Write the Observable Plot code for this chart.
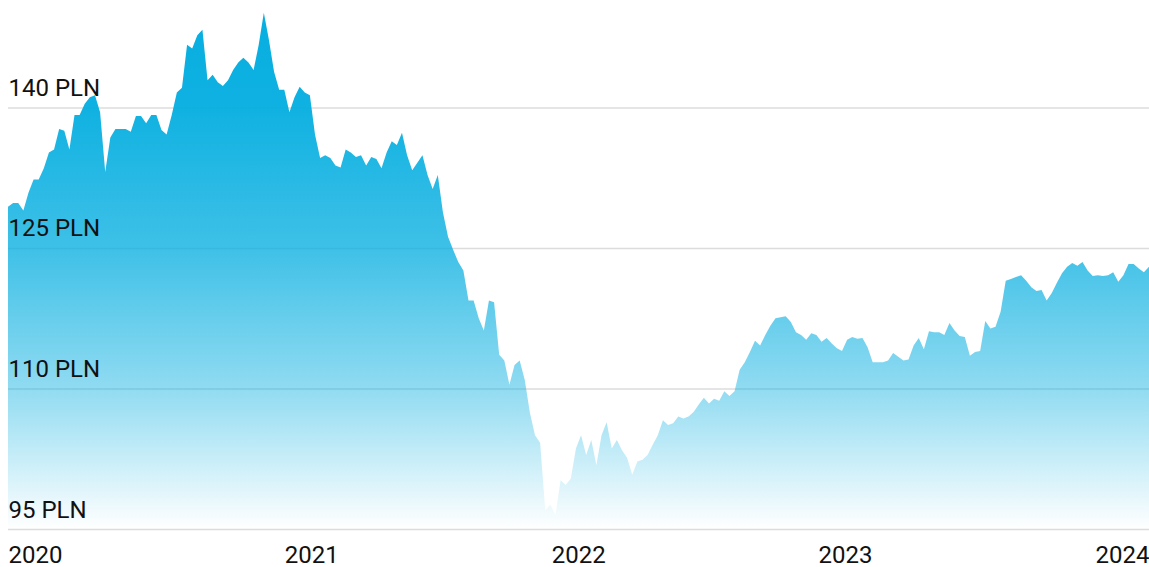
<!DOCTYPE html>
<html>
<head>
<meta charset="utf-8">
<script src="https://cdn.jsdelivr.net/npm/d3@7"></script>
<script src="https://cdn.jsdelivr.net/npm/@observablehq/plot@0.6"></script>
<style>
  html, body { margin: 0; padding: 0; background: #fff; }
  #chart svg { display: block; }
</style>
</head>
<body>
<div id="chart"></div>
<script>
// Weekly observations (Wednesdays) from first to last week
const firstWeek = "2019-11-13";
const lastWeek = "2024-02-21";

// Price in PLN, one value per week
const prices = [
  129.4,129.8,129.8,129.0,130.9,132.3,132.3,133.5,135.2,135.5,
  137.7,137.5,135.5,139.2,139.2,140.4,141.1,141.3,139.5,133.1,
  136.8,137.7,137.7,137.7,137.4,139.1,139.1,138.3,139.2,139.2,
  137.6,137.1,139.2,141.6,142.1,146.7,146.3,147.7,148.3,142.9,
  143.5,142.7,142.3,142.9,144.0,144.8,145.3,144.8,144.0,146.7,
  150.1,147.2,143.8,141.9,141.9,139.5,141.1,142.2,141.6,141.3,
  137.1,134.6,134.9,134.6,133.8,133.6,135.5,135.2,134.7,134.9,
  133.8,134.7,134.5,133.5,135.2,136.4,136.0,137.3,134.9,133.3,
  134.1,134.9,132.8,131.3,132.8,128.8,126.2,124.8,123.5,122.6,
  119.4,119.4,117.5,116.2,119.4,119.2,113.6,113.0,110.4,112.5,
  113.0,110.9,107.4,105.0,104.2,97.0,97.6,96.5,100.2,99.7,
  100.4,103.6,105.0,102.9,104.5,101.8,105.0,106.4,103.6,104.5,
  103.4,102.6,100.8,102.2,102.4,102.9,104.0,105.0,106.6,106.1,
  106.3,107.0,106.8,107.0,107.5,108.3,109.0,108.4,108.9,108.7,
  109.7,109.2,109.7,112.0,112.8,113.9,115.1,114.6,115.7,116.7,
  117.5,117.6,117.7,117.1,116.0,115.7,115.2,115.9,115.7,115.0,
  115.4,114.8,114.3,114.0,115.2,115.5,115.3,115.4,114.4,112.8,
  112.8,112.8,113.0,113.8,113.4,113.0,113.1,114.6,115.4,114.2,
  116.1,116.0,116.0,115.7,117.0,116.2,115.6,115.5,113.5,113.9,
  114.0,117.2,116.4,116.6,118.2,121.5,121.7,121.9,122.1,121.5,
  120.8,120.4,120.5,119.4,120.2,121.3,122.3,123.0,123.4,123.1,
  123.5,122.6,122.0,122.1,122.0,122.1,122.4,121.4,122.1,123.3,
  123.3,122.8,122.4,123.0
];

const yTicks = [95, 110, 125, 140];
const yTop = 151.47;
const yearLabels = [2020, 2021, 2022, 2023, 2024];
const unit = "PLN";

const dates = d3.utcWednesday.range(new Date(firstWeek), d3.utcDay.offset(new Date(lastWeek), 1));
const data = prices.map((p, i) => ({date: dates[i], price: p})).filter(d => d.date);
const xDomain = [data[0].date, data[data.length - 1].date];

const fadeStops = [
  {offset: 0, opacity: 1},
  {offset: 0.2, opacity: 0.96},
  {offset: 0.47, opacity: 0.77},
  {offset: 0.73, opacity: 0.45},
  {offset: 0.88, opacity: 0.2},
  {offset: 1, opacity: 0}
];
const areaColor = "#05aee0";

const gradient = (index, scales, values, dims) => {
  const defs = d3.create("svg:defs");
  const lg = defs.append("linearGradient")
    .attr("id", "fade")
    .attr("gradientUnits", "userSpaceOnUse")
    .attr("x1", 0).attr("x2", 0)
    .attr("y1", dims.marginTop)
    .attr("y2", dims.height - dims.marginBottom);
  for (const s of fadeStops) {
    lg.append("stop").attr("offset", s.offset)
      .attr("stop-color", areaColor).attr("stop-opacity", s.opacity);
  }
  return defs.node();
};

const font = {fontSize: 24, fontFamily: "Roboto", fill: "#111"};

const chart = Plot.plot({
  width: 1149,
  height: 567,
  marginLeft: 8,
  marginRight: 0,
  marginTop: 0,
  marginBottom: 38,
  style: {background: "#fff", fontFamily: "Roboto"},
  x: {type: "utc", domain: xDomain, axis: null},
  y: {domain: [yTicks[0], yTop], axis: null},
  marks: [
    gradient,
    Plot.ruleY(yTicks, {stroke: "#dcdcdc", strokeWidth: 1.5}),
    Plot.areaY(data, {x: "date", y1: yTicks[0], y2: "price", fill: "url(#fade)"}),
    Plot.text(yTicks, {y: d => d, text: d => `${d} ${unit}`, frameAnchor: "left", textAnchor: "start", lineAnchor: "bottom", dy: -12, ...font}),
    Plot.text([yearLabels[0]], {x: () => xDomain[0], text: d => String(d), frameAnchor: "bottom", textAnchor: "start", lineAnchor: "bottom", dy: 33, ...font}),
    Plot.text(yearLabels.slice(1, -1), {x: d => new Date(Date.UTC(d, 0, 1)), text: d => String(d), frameAnchor: "bottom", textAnchor: "middle", lineAnchor: "bottom", dy: 33, ...font}),
    Plot.text([yearLabels[yearLabels.length - 1]], {x: () => xDomain[1], text: d => String(d), frameAnchor: "bottom", textAnchor: "end", lineAnchor: "bottom", dy: 33, ...font})
  ]
});
document.getElementById("chart").appendChild(chart);
</script>
</body>
</html>
